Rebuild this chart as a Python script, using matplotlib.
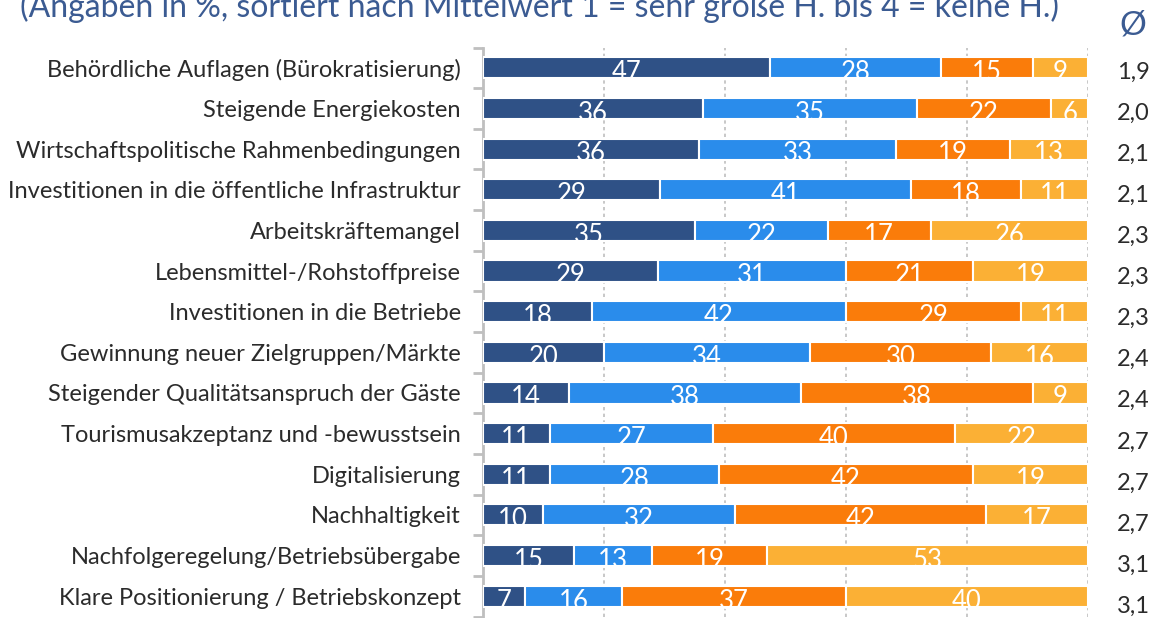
import numpy as np
import matplotlib
matplotlib.use('Agg')
import matplotlib.pyplot as plt
from matplotlib.ticker import FixedLocator

plt.rcParams['font.family'] = ['Lato', 'DejaVu Sans']

categories = [
    'Behördliche Auflagen (Bürokratisierung)',
    'Steigende Energiekosten',
    'Wirtschaftspolitische Rahmenbedingungen',
    'Investitionen in die öffentliche Infrastruktur',
    'Arbeitskräftemangel',
    'Lebensmittel-/Rohstoffpreise',
    'Investitionen in die Betriebe',
    'Gewinnung neuer Zielgruppen/Märkte',
    'Steigender Qualitätsanspruch der Gäste',
    'Tourismusakzeptanz und -bewusstsein',
    'Digitalisierung',
    'Nachhaltigkeit',
    'Nachfolgeregelung/Betriebsübergabe',
    'Klare Positionierung / Betriebskonzept',
]
sehr_gross = [47, 36, 36, 29, 35, 29, 18, 20, 14, 11, 11, 10, 15, 7]
gross = [28, 35, 33, 41, 22, 31, 42, 34, 38, 27, 28, 32, 13, 16]
gering = [15, 22, 19, 18, 17, 21, 29, 30, 38, 40, 42, 42, 19, 37]
keine = [9, 6, 13, 11, 26, 19, 11, 16, 9, 22, 19, 17, 53, 40]
mittelwert = ['1,9', '2,0', '2,1', '2,1', '2,3', '2,3', '2,3', '2,4', '2,4',
              '2,7', '2,7', '2,7', '3,1', '3,1']

colors = ['#2F5186', '#2A8CEB', '#FA7C0A', '#FBB035']
title = '(Angaben in %, sortiert nach Mittelwert 1 = sehr große H. bis 4 = keine H.)'

W, H = 1151, 618
fig = plt.figure(figsize=(W / 100, H / 100), dpi=100)
ax = fig.add_axes([483 / W, 1 - 616.5 / H, (1088 - 483) / W, (616.5 - 47.5) / H])

data = np.array([sehr_gross, gross, gering, keine], dtype=float)
shares = data / data.sum(axis=0) * 100
y = np.arange(len(categories))

left = np.zeros(len(categories))
for k in range(4):
    ax.barh(y, shares[k], left=left, height=0.52, color=colors[k],
            edgecolor='white', linewidth=1.5, zorder=3)
    for i in range(len(categories)):
        ax.text(left[i] + shares[k][i] / 2, y[i] + 0.12, str(int(data[k][i])),
                ha='center', va='center', color='white', fontsize=18.5,
                zorder=4, clip_on=True)
    left += shares[k]

ax.set_xlim(0, 100)
ax.set_ylim(len(categories) - 0.5, -0.5)
ax.xaxis.set_major_locator(FixedLocator([20, 40, 60, 80, 100]))
ax.grid(axis='x', color='#BFBFBF', linestyle=(0, (2, 2)), linewidth=1.2, zorder=0)
ax.tick_params(axis='x', length=0, labelbottom=False)

ax.set_yticks(y)
ax.set_yticklabels(categories, fontsize=17, color='#2B2B2B')
ax.tick_params(axis='y', which='major', length=0, pad=16)
ax.yaxis.set_minor_locator(FixedLocator(np.arange(-0.5, len(categories), 1)))
ax.tick_params(axis='y', which='minor', length=7, width=2, color='#BFBFBF')

for s in ['top', 'right', 'bottom']:
    ax.spines[s].set_visible(False)
ax.spines['left'].set_color('#BFBFBF')
ax.spines['left'].set_linewidth(2)

# mean values column
for i, m in enumerate(mittelwert):
    fig.text(1133 / W, 1 - (72 + i * 41.1) / H, m, ha='center', va='center',
             fontsize=17, color='#2B2B2B')
fig.text(1133 / W, 1 - 25 / H, 'Ø', ha='center', va='center', fontsize=24,
         color='#3B5B92')

fig.text(540 / W, 1 - 17 / H, title, ha='center', va='baseline', fontsize=23,
         color='#3B5B92')

fig.savefig('out.png', dpi=100)
